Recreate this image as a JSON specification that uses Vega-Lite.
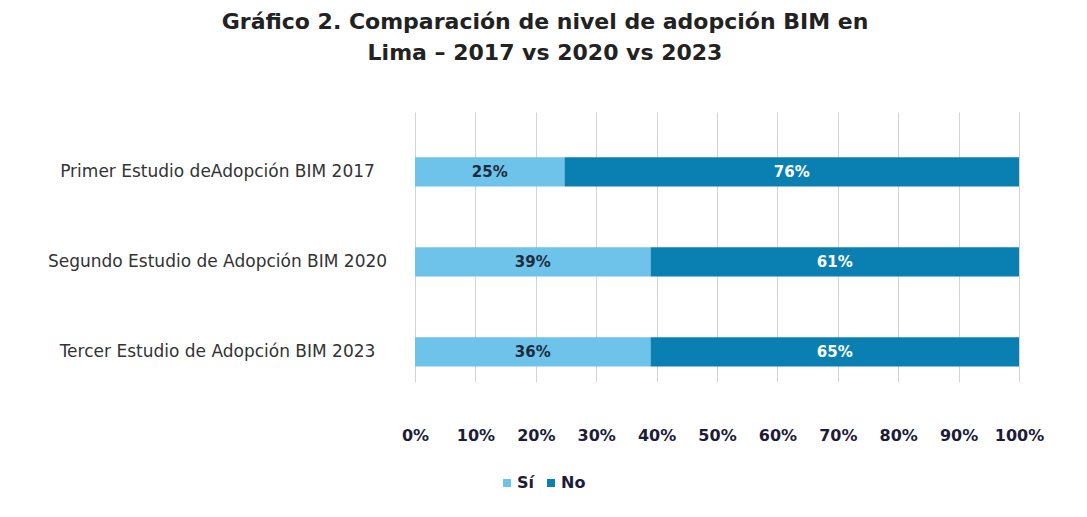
{
  "$schema": "https://vega.github.io/schema/vega-lite/v6.json",
  "width": 604,
  "height": 270,
  "autosize": {"type": "none"},
  "padding": {"left": 415, "top": 112, "right": 68, "bottom": 135},
  "background": "white",
  "title": {
    "text": ["Gráfico 2. Comparación de nivel de adopción BIM en", "Lima – 2017 vs 2020 vs 2023"],
    "font": "DejaVu Sans",
    "fontSize": 22,
    "fontWeight": "bold",
    "color": "#222222",
    "anchor": "middle",
    "dx": -172,
    "offset": 47,
    "lineHeight": 31
  },
  "data": {
    "values": [
      {"estudio": "Primer Estudio deAdopción BIM 2017", "respuesta": "Sí", "valor": 0.25, "largo": 25},
      {"estudio": "Primer Estudio deAdopción BIM 2017", "respuesta": "No", "valor": 0.76, "largo": 76},
      {"estudio": "Segundo Estudio de Adopción BIM 2020", "respuesta": "Sí", "valor": 0.39, "largo": 39},
      {"estudio": "Segundo Estudio de Adopción BIM 2020", "respuesta": "No", "valor": 0.61, "largo": 61},
      {"estudio": "Tercer Estudio de Adopción BIM 2023", "respuesta": "Sí", "valor": 0.36, "largo": 39},
      {"estudio": "Tercer Estudio de Adopción BIM 2023", "respuesta": "No", "valor": 0.65, "largo": 61}
    ]
  },
  "transform": [
    {"stack": "largo", "groupby": ["estudio"], "offset": "normalize", "sort": [{"field": "respuesta", "order": "descending"}], "as": ["x0", "x1"]}
  ],
  "encoding": {
    "y": {
      "field": "estudio",
      "type": "nominal",
      "sort": null,
      "scale": {"paddingInner": 0.674, "paddingOuter": 0.337, "align": 0.745},
      "axis": {
        "title": null,
        "domain": false,
        "ticks": false,
        "grid": false,
        "labelAlign": "center",
        "labelPadding": 198,
        "labelFont": "DejaVu Sans",
        "labelFontSize": 17,
        "labelColor": "#333333",
        "labelLimit": 500
      }
    }
  },
  "layer": [
    {
      "mark": {"type": "bar"},
      "encoding": {
        "x": {
          "field": "x0",
          "type": "quantitative",
          "scale": {"domain": [0, 1], "nice": false},
          "axis": {
            "title": null,
            "domain": false,
            "ticks": false,
            "grid": true,
            "gridColor": "#d4d4d4",
            "values": [0, 0.1, 0.2, 0.3, 0.4, 0.5, 0.6, 0.7, 0.8, 0.9, 1],
            "format": ".0%",
            "labelFont": "DejaVu Sans",
            "labelFontSize": 16,
            "labelFontWeight": "bold",
            "labelColor": "#1c1c38",
            "labelPadding": 45,
            "labelFlush": false
          }
        },
        "x2": {"field": "x1"},
        "color": {
          "field": "respuesta",
          "type": "nominal",
          "scale": {"domain": ["Sí", "No"], "range": ["#6EC3EA", "#0A80B2"]},
          "legend": {
            "title": null,
            "orient": "none",
            "legendX": 84,
            "legendY": 363,
            "direction": "horizontal",
            "symbolType": "square",
            "symbolSize": 64,
            "labelFont": "DejaVu Sans",
            "labelFontSize": 16,
            "labelFontWeight": "bold",
            "labelColor": "#1c1c38",
            "labelOffset": 2,
            "columnPadding": 8,
            "padding": 0
          }
        }
      }
    },
    {
      "transform": [
        {"fold": ["x0", "x1"], "as": ["extremo", "pos"]},
        {"aggregate": [{"op": "mean", "field": "pos", "as": "centro"}], "groupby": ["estudio", "respuesta", "valor"]}
      ],
      "mark": {"type": "text", "font": "DejaVu Sans", "fontSize": 15, "fontWeight": "bold"},
      "encoding": {
        "x": {"field": "centro", "type": "quantitative"},
        "text": {"field": "valor", "type": "quantitative", "format": ".0%"},
        "color": {"condition": {"test": "datum.respuesta === 'Sí'", "value": "#1e2b3c"}, "value": "white"}
      }
    }
  ],
  "config": {"view": {"stroke": null}}
}
